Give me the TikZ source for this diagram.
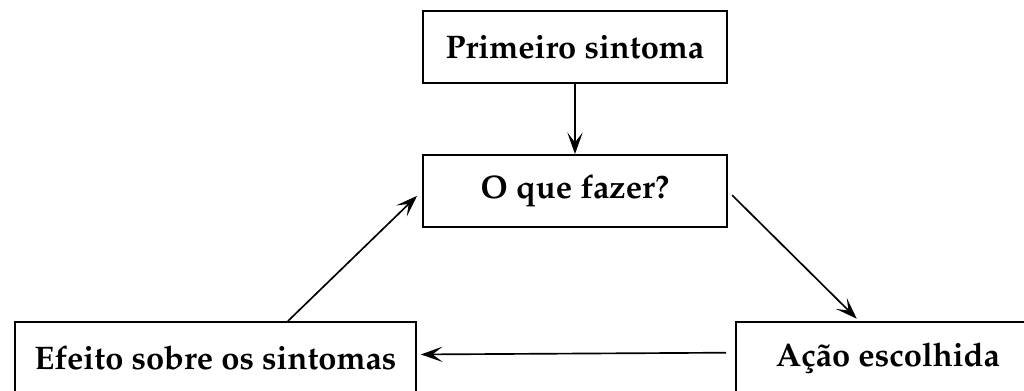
\documentclass[tikz,border=0pt]{standalone}
\usepackage[T1]{fontenc}
\usepackage{mathpazo}
\usetikzlibrary{arrows.meta}
\begin{document}
\begin{tikzpicture}[x=0.3pt, y=-0.3pt,
  caixa/.style={draw, line width=0.55pt, minimum height=21.6pt, minimum width=91.2pt,
    font=\fontsize{9.8}{12}\selectfont\bfseries, inner sep=0pt},
  seta/.style={-{Stealth[length=6.5pt, width=4.6pt, inset=3pt]}, line width=0.5pt}]
\useasboundingbox (0,0) rectangle (1024,391);
\node[caixa] (primeiro) at (575,47) {Primeiro sintoma};
\node[caixa] (fazer) at (575,191) {O que fazer?};
\node[caixa] (acao) at (888,358) {A\c{c}\~ao escolhida};
\node[caixa, minimum width=120.3pt] (efeito) at (215.5,358) {Efeito sobre os sintomas};
\draw[seta] (primeiro.south) -- (fazer.north);
\draw[seta, shorten <=1.8pt, shorten >=1pt] (fazer.east) -- (acao.128);
\draw[seta, shorten <=2.7pt, shorten >=1.2pt] (acao.178) -- (efeito.1.5);
\draw[seta, shorten >=2.1pt] (efeito.27) -- (fazer.west);
\end{tikzpicture}
\end{document}
